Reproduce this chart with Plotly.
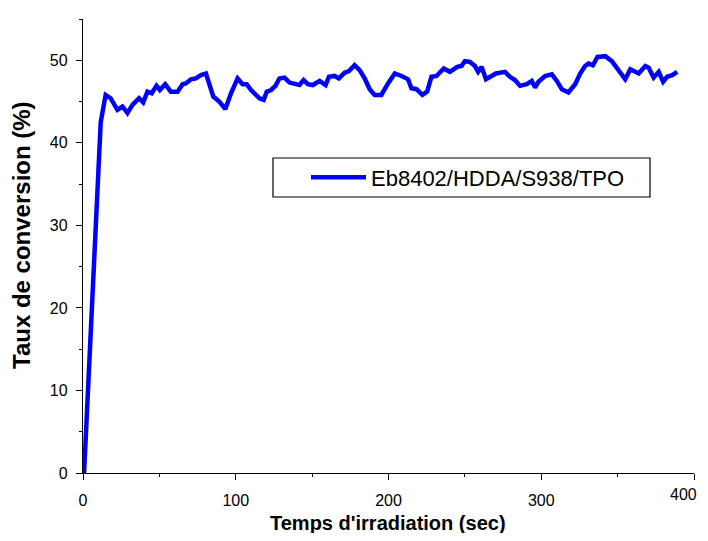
import plotly.graph_objects as go

time_s = [0.7, 4.4, 11.6, 14.8, 18.1, 22.5, 25.8, 29.1, 32.4, 36.7, 39.4, 42.2, 45.0, 48.1, 50.3,
          53.8, 57.5, 61.9, 65.2, 67.3, 70.7, 73.9, 77.2, 80.5, 85.3, 89.2, 93.2, 96.9, 101.2,
          104.5, 107.2, 110.0, 113.3, 115.5, 118.3, 120.3, 123.1, 126.0, 128.6, 131.9, 135.2,
          138.5, 141.7, 144.4, 147.2, 150.5, 154.9, 158.8, 161.0, 164.7, 167.5, 171.3, 174.1,
          177.8, 181.1, 184.4, 187.7, 190.9, 195.3, 199.7, 204.1, 208.5, 212.8, 215.0, 218.3,
          222.2, 225.3, 228.1, 231.4, 236.2, 240.2, 245.0, 247.8, 250.0, 253.3, 256.6, 258.7,
          261.0, 263.8, 267.5, 270.3, 276.2, 279.5, 282.8, 286.1, 290.5, 293.8, 296.0, 298.2,
          302.5, 306.9, 310.2, 313.5, 317.8, 322.2, 325.5, 328.7, 330.9, 333.8, 336.8, 341.9,
          346.2, 350.6, 355.0, 358.3, 363.8, 368.1, 370.3, 373.6, 376.9, 379.8, 382.4, 385.7, 389.0]
conversion = [0.0, 14.0, 42.5, 45.8, 45.4, 44.0, 44.4, 43.6, 44.6, 45.4, 44.9, 46.2, 46.0, 46.9, 46.4,
              47.1, 46.2, 46.2, 47.1, 47.2, 47.7, 47.8, 48.2, 48.4, 45.6, 45.0, 44.1, 46.0, 47.8,
              47.1, 47.1, 46.4, 45.9, 45.4, 45.2, 46.2, 46.4, 46.9, 47.8, 47.9, 47.3,
              47.2, 47.0, 47.6, 47.1, 47.0, 47.5, 47.0, 48.0, 48.1, 47.8, 48.5, 48.7,
              49.4, 48.8, 47.8, 46.5, 45.8, 45.8, 47.2, 48.4, 48.1, 47.7, 46.6, 46.5,
              45.8, 46.2, 48.0, 48.1, 49.0, 48.6, 49.2, 49.3, 49.9, 49.8, 49.3, 48.6,
              49.2, 47.7, 48.1, 48.4, 48.6, 48.0, 47.6, 46.9, 47.1, 47.5, 46.7, 47.4,
              48.1, 48.3, 47.5, 46.5, 46.1, 47.1, 48.4, 49.3, 49.6, 49.4, 50.4, 50.5,
              49.9, 48.8, 47.7, 48.9, 48.4, 49.3, 49.1, 47.9, 48.6, 47.4, 48.0, 48.2, 48.6]

series_name = "Eb8402/HDDA/S938/TPO"
x_title = "Temps d'irradiation (sec)"
y_title = "Taux de conversion (%)"
x_ticks = [0, 100, 200, 300, 400]
y_ticks = [0, 10, 20, 30, 40, 50]

FONT = "Arial, 'Liberation Sans', sans-serif"

fig = go.Figure()
fig.add_trace(go.Scatter(x=time_s, y=conversion, mode="lines", name=series_name,
                         line=dict(color="#0000FF", width=4.5)))

axis_common = dict(showline=True, linecolor="black", linewidth=1.3, ticks="outside",
                   ticklen=6, tickwidth=1.3, tickcolor="black", showgrid=False,
                   zeroline=False, tickfont=dict(family=FONT, size=16, color="black"),
                   mirror=False)

fig.update_xaxes(range=[0, 400], tickvals=x_ticks, ticktext=[str(v) for v in x_ticks[:-1]] + [""],
                 ticklabelstandoff=7,
                 minor=dict(ticks="outside", ticklen=3, tickwidth=1.3, tickcolor="black", dtick=50),
                 **axis_common)
fig.update_yaxes(range=[0, 55], tickvals=y_ticks, ticklabelstandoff=5,
                 minor=dict(ticks="outside", ticklen=3, tickwidth=1.3, tickcolor="black", dtick=5),
                 **axis_common)

# plot area in screen pixels (page has 8px body margin): x 83..694, y 19..473
PW, PH = 611.0, 454.0

# last x tick label, kept inside the figure edge
fig.add_annotation(text=str(x_ticks[-1]), x=x_ticks[-1], xref="x", yref="paper",
                   y=-(494 - 473) / PH, xanchor="right", yanchor="middle", xshift=5,
                   showarrow=False, font=dict(family=FONT, size=16, color="black"))

fig.add_annotation(text="<b>" + x_title + "</b>", xref="paper", yref="paper",
                   x=(388 - 83) / PW, y=-(523 - 473) / PH, xanchor="center", yanchor="middle",
                   showarrow=False, font=dict(family=FONT, size=20, color="black"))
fig.add_annotation(text="<b>" + y_title + "</b>", xref="paper", yref="paper",
                   x=(21 - 83) / PW, y=(473 - 235) / PH, xanchor="center", yanchor="middle",
                   showarrow=False, textangle=-90, font=dict(family=FONT, size=24, color="black"))

# legend frame
fig.add_shape(type="rect", xref="paper", yref="paper",
              x0=(273 - 83) / PW, x1=(650 - 83) / PW,
              y0=(473 - 197) / PH, y1=(473 - 158) / PH,
              line=dict(color="black", width=1.2), fillcolor="white", layer="below")

fig.update_layout(
    width=692, height=525,
    margin=dict(l=75, r=6, t=11, b=60),
    paper_bgcolor="white", plot_bgcolor="white",
    showlegend=True,
    legend=dict(x=(306 - 83) / PW, y=(473 - 177.5) / PH, xanchor="left", yanchor="middle",
                bgcolor="rgba(0,0,0,0)", borderwidth=0, itemwidth=55,
                font=dict(family=FONT, size=22, color="black")),
)

fig.write_html("out.html", config={"displayModeBar": False})
